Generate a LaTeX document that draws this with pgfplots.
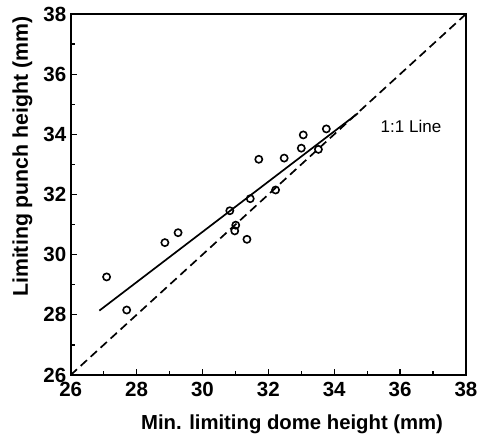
\documentclass[border=0pt]{standalone}
\usepackage{fontspec}
\setmainfont{Liberation Sans}
\usepackage{pgfplots}
\pgfplotsset{compat=1.18}

\begin{document}
\begin{tikzpicture}
\useasboundingbox (-70.7pt,-63pt) rectangle (406.3pt,375pt);
\begin{axis}[
    width=395.3pt, height=361pt, scale only axis,
    xmin=26, xmax=38, ymin=26, ymax=38,
    xtick={26,28,...,38}, ytick={26,28,...,38},
    minor xtick={27,29,...,37}, minor ytick={27,29,...,37},
    tick pos=left, tick align=inside,
    major tick length=6pt, minor tick length=4pt,
    every tick/.style={black, line width=1.3pt},
    axis line style={line width=2pt},
    /pgf/number format/assume math mode=true,
    ticklabel style={font=\fontsize{20.5}{22}\selectfont\bfseries},
    xticklabel style={yshift=-4pt},
    yticklabel style={xshift=-1pt},
    xlabel={Min. limiting dome height (mm)},
    ylabel={Limiting punch height (mm)},
    xlabel style={font=\fontsize{20.3}{24}\selectfont\bfseries,
      at={(axis description cs:0.56,0)}, anchor=base, yshift=-55pt},
    ylabel style={font=\fontsize{21.3}{24}\selectfont\bfseries,
      at={(axis description cs:0,0.605)}, anchor=base, yshift=42.7pt},
  ]
  % 1:1 line
  \addplot[black, line width=1.7pt, dash pattern=on 8.5pt off 5pt] coordinates {(26,26) (38,38)};
  % fitted line
  \addplot[black, line width=1.7pt] coordinates {(26.87,28.14) (34.72,34.70)};
  % measurements
  \addplot[only marks, mark=o, mark size=3.6pt, mark options={line width=1.6pt, black}] coordinates {
    (27.09,29.26) (27.70,28.16) (28.86,30.40) (29.26,30.73)
    (30.83,31.46) (31.01,30.98) (30.98,30.79) (31.35,30.51)
    (31.45,31.86) (31.71,33.17) (32.22,32.15) (32.48,33.21)
    (33.00,33.54) (33.06,33.98) (33.52,33.50) (33.76,34.18)
  };
  \node[font=\fontsize{17}{20}\selectfont] at (axis cs:36.33,34.25) {1:1 Line};
\end{axis}
\end{tikzpicture}
\end{document}
